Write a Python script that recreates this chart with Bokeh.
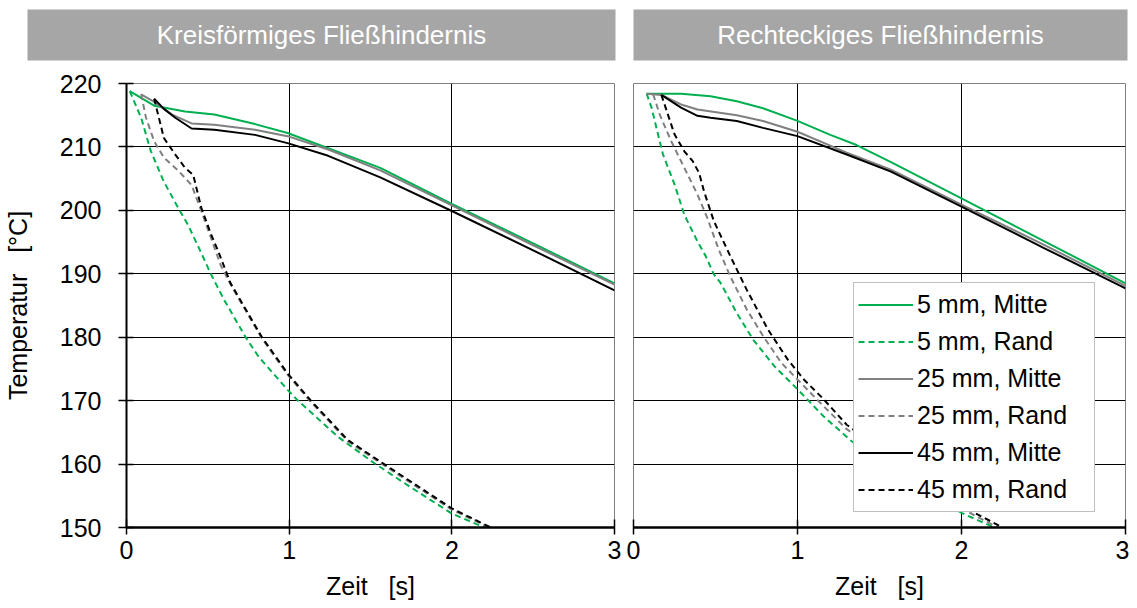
from bokeh.plotting import figure
from bokeh.models import Range1d, FixedTicker, Legend, LegendItem, Label
from bokeh.layouts import column, row
from bokeh.embed import file_html
from bokeh.resources import INLINE

FONT = "Liberation Sans"
GREEN = "#00B050"
GRAY = "#808080"
BLACK = "#000000"
BAR = "#A6A6A6"

panel_titles = ["Kreisförmiges Fließhindernis", "Rechteckiges Fließhindernis"]
x_ticks = [0, 1, 2, 3]
y_ticks = [150, 160, 170, 180, 190, 200, 210, 220]
x_label = "Zeit \u00a0 [s]"
y_label = "Temperatur \u00a0 [°C]"
series_names = ["5 mm, Mitte", "5 mm, Rand", "25 mm, Mitte", "25 mm, Rand",
                "45 mm, Mitte", "45 mm, Rand"]

# ---- circular obstacle (left panel) ----
l_5m_x = [0.02, 0.17, 0.36, 0.54, 0.79, 0.99, 1.24, 1.56, 2.0, 2.5, 3.0]
l_5m_y = [218.8, 216.5, 215.6, 215.1, 213.6, 212.2, 209.8, 206.7, 201.0, 194.8, 188.5]
l_5r_x = [0.02, 0.09, 0.15, 0.23, 0.32, 0.38, 0.45, 0.52, 0.60, 0.73, 0.81, 0.99, 1.05, 1.30, 1.52, 1.75, 2.0, 2.2]
l_5r_y = [218.8, 214.6, 209.3, 204.5, 200.3, 197.6, 193.8, 189.9, 185.9, 180.1, 177.0, 171.7, 170.1, 164.3, 160.2, 156.3, 152.2, 150.0]
l_25m_x = [0.09, 0.17, 0.28, 0.40, 0.54, 0.79, 0.99, 1.24, 1.56, 2.0, 2.5, 3.0]
l_25m_y = [218.3, 217.1, 215.1, 213.7, 213.5, 212.7, 211.7, 209.6, 206.3, 200.8, 194.5, 188.3]
l_25r_x = [0.09, 0.12, 0.17, 0.23, 0.32, 0.40, 0.46, 0.58, 0.64, 0.83, 0.99, 1.13, 1.36, 1.56, 2.0, 2.23]
l_25r_y = [218.3, 214.6, 210.9, 208.3, 206.2, 204.0, 199.9, 191.3, 188.3, 179.9, 174.1, 169.9, 163.6, 160.2, 152.8, 150.0]
l_45m_x = [0.17, 0.23, 0.30, 0.40, 0.54, 0.79, 0.99, 1.24, 1.56, 2.0, 2.5, 3.0]
l_45m_y = [217.6, 216.0, 214.6, 212.9, 212.7, 211.9, 210.6, 208.6, 205.2, 199.9, 193.7, 187.4]
l_45r_x = [0.17, 0.23, 0.30, 0.36, 0.41, 0.46, 0.52, 0.56, 0.64, 0.83, 0.99, 1.13, 1.36, 1.56, 2.0, 2.24]
l_45r_y = [217.6, 211.4, 208.8, 206.7, 205.6, 200.4, 196.2, 193.8, 188.5, 180.1, 174.3, 170.1, 163.8, 160.4, 153.0, 150.0]

# ---- rectangular obstacle (right panel) ----
r_5m_x = [0.08, 0.29, 0.47, 0.63, 0.79, 1.0, 1.20, 1.36, 1.57, 2.0, 2.5, 3.0]
r_5m_y = [218.4, 218.4, 218.0, 217.2, 216.1, 214.1, 211.9, 210.3, 207.6, 201.9, 195.2, 188.5]
r_5r_x = [0.08, 0.11, 0.14, 0.18, 0.25, 0.31, 0.39, 0.44, 0.49, 0.53, 0.63, 0.73, 0.86, 1.0, 1.16, 1.33, 1.6, 2.0, 2.2]
r_5r_y = [218.4, 216.2, 213.0, 208.8, 204.1, 199.3, 195.1, 192.8, 189.9, 188.6, 183.8, 179.6, 175.4, 171.8, 167.5, 163.6, 158.7, 152.3, 150.0]
r_25m_x = [0.08, 0.17, 0.29, 0.39, 0.63, 0.79, 1.0, 1.30, 1.57, 2.0, 2.5, 3.0]
r_25m_y = [218.4, 218.2, 216.7, 215.9, 215.0, 214.1, 212.4, 209.1, 206.4, 200.9, 194.6, 188.1]
r_25r_x = [0.12, 0.16, 0.23, 0.31, 0.39, 0.45, 0.52, 0.59, 0.69, 0.79, 0.90, 1.02, 1.16, 1.30, 1.6, 2.0, 2.22]
r_25r_y = [218.3, 215.1, 210.9, 206.7, 202.5, 198.8, 193.8, 189.6, 184.4, 180.2, 176.0, 172.8, 169.1, 165.5, 160.0, 153.0, 150.0]
r_45m_x = [0.17, 0.29, 0.39, 0.47, 0.63, 0.79, 1.0, 1.30, 1.57, 2.0, 2.5, 3.0]
r_45m_y = [218.2, 216.2, 214.9, 214.6, 214.1, 213.0, 211.7, 208.8, 206.1, 200.6, 194.1, 187.7]
r_45r_x = [0.17, 0.21, 0.25, 0.31, 0.36, 0.40, 0.43, 0.49, 0.59, 0.69, 0.82, 0.94, 1.04, 1.16, 1.30, 1.6, 2.0, 2.25]
r_45r_y = [218.2, 215.1, 212.0, 209.3, 207.8, 205.9, 203.0, 198.3, 192.8, 187.5, 181.2, 176.5, 173.3, 170.2, 166.2, 160.6, 153.4, 150.0]

left_series = [(l_5m_x, l_5m_y), (l_5r_x, l_5r_y), (l_25m_x, l_25m_y),
               (l_25r_x, l_25r_y), (l_45m_x, l_45m_y), (l_45r_x, l_45r_y)]
right_series = [(r_5m_x, r_5m_y), (r_5r_x, r_5r_y), (r_25m_x, r_25m_y),
                (r_25r_x, r_25r_y), (r_45m_x, r_45m_y), (r_45r_x, r_45r_y)]
styles = [(GREEN, "solid"), (GREEN, "6 4"), (GRAY, "solid"), (GRAY, "6 4"),
          (BLACK, "solid"), (BLACK, "6 4")]

LEFT_W, RIGHT_W = 624, 505


def make_bar(title, width, bl, br):
    b = figure(width=width, height=70, x_range=Range1d(0, 1), y_range=Range1d(0, 1),
               output_backend="svg", toolbar_location=None,
               x_axis_location=None, y_axis_location=None,
               min_border_left=bl, min_border_right=br, min_border_top=9, min_border_bottom=10,
               background_fill_color=BAR, border_fill_color="white", outline_line_color=None)
    b.xgrid.visible = False
    b.ygrid.visible = False
    b.add_layout(Label(x=0.5, y=0.5, text=title, text_align="center", text_baseline="middle",
                       text_color="white", text_font=FONT, text_font_size="26px"))
    return b


def make_main(series, left):
    p = figure(width=LEFT_W if left else RIGHT_W, height=538,
               x_range=Range1d(0, 3), y_range=Range1d(150, 220),
               output_backend="svg", toolbar_location=None,
               y_axis_location="left" if left else None,
               min_border_left=125 if left else 9, min_border_right=10 if left else 4,
               min_border_top=13, min_border_bottom=81,
               background_fill_color="white", border_fill_color="white",
               outline_line_color="#808080", outline_line_width=1)
    p.xgrid.ticker = FixedTicker(ticks=x_ticks[1:-1])
    p.ygrid.ticker = FixedTicker(ticks=y_ticks[1:])
    p.xgrid.grid_line_color = "black"
    p.ygrid.grid_line_color = "black"
    p.xgrid.grid_line_width = 1
    p.ygrid.grid_line_width = 1

    ax = p.xaxis[0]
    ax.ticker = FixedTicker(ticks=x_ticks)
    ax.axis_line_color = "black"
    ax.axis_line_width = 2.5
    ax.major_tick_line_color = "black"
    ax.major_tick_line_width = 1.5
    ax.major_tick_in = 8
    ax.major_tick_out = 7
    ax.minor_tick_line_color = None
    ax.major_label_text_font = FONT
    ax.major_label_text_font_size = "25px"
    ax.major_label_text_color = "black"
    ax.major_label_standoff = 6
    ax.axis_label = x_label
    ax.axis_label_text_font = FONT
    ax.axis_label_text_font_size = "25px"
    ax.axis_label_text_font_style = "normal"
    ax.axis_label_text_color = "black"
    ax.axis_label_standoff = 10

    if left:
        ay = p.yaxis[0]
        ay.ticker = FixedTicker(ticks=y_ticks)
        ay.axis_line_color = "black"
        ay.axis_line_width = 2
        ay.major_tick_line_color = "black"
        ay.major_tick_line_width = 1.5
        ay.major_tick_in = 7
        ay.major_tick_out = 8
        ay.minor_tick_line_color = None
        ay.major_label_text_font = FONT
        ay.major_label_text_font_size = "25px"
        ay.major_label_text_color = "black"
        ay.major_label_standoff = 17
        ay.axis_label = y_label
        ay.axis_label_text_font = FONT
        ay.axis_label_text_font_size = "25px"
        ay.axis_label_text_font_style = "normal"
        ay.axis_label_text_color = "black"
        ay.axis_label_standoff = 25

    renderers = []
    for (xs, ys), (col, dash) in zip(series, styles):
        r = p.line(xs, ys, line_color=col, line_width=2, line_dash=dash)
        renderers.append(r)
    return p, renderers


bar_l = make_bar(panel_titles[0], LEFT_W, 27, 9)
bar_r = make_bar(panel_titles[1], RIGHT_W, 9, 2)
main_l, _ = make_main(left_series, True)
main_r, rr = make_main(right_series, False)

legend = Legend(items=[LegendItem(label=n, renderers=[r]) for n, r in zip(series_names, rr)],
                location=(220, 15), padding=4, spacing=2, margin=0,
                label_height=35, glyph_height=35, glyph_width=55, label_standoff=4,
                label_width=173, label_text_font=FONT, label_text_font_size="25px",
                label_text_color="black",
                border_line_color="#808080", border_line_width=1,
                background_fill_color="white", background_fill_alpha=1)
main_r.add_layout(legend)

layout = column(row(bar_l, bar_r), row(main_l, main_r))

open("out.html", "w").write(file_html(layout, INLINE))
